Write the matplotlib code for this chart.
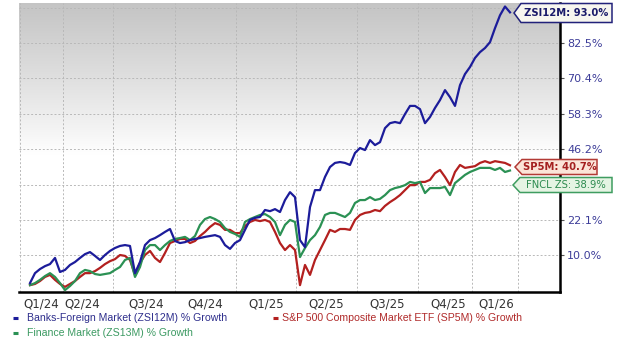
import numpy as np
import matplotlib
matplotlib.use("Agg")
import matplotlib.pyplot as plt
from matplotlib.patches import Polygon
from matplotlib.lines import Line2D
from matplotlib.transforms import Affine2D

# ---------------- data ----------------
banks_foreign = [0.4, 3.8, 5.2, 6.2, 6.9, 9.0, 4.2, 4.9, 6.6, 7.6,
                 9.0, 10.3, 11.0, 9.7, 8.3, 10.0, 11.4, 12.4, 13.1, 13.4,
                 13.1, 3.8, 7.6, 13.4, 15.1, 15.8, 16.8, 17.9, 18.9, 14.8,
                 14.1, 14.4, 15.1, 15.5, 15.8, 16.2, 16.5, 16.8, 16.2, 13.4,
                 12.1, 14.1, 15.1, 18.6, 22.0, 22.7, 23.0, 25.4, 25.0, 25.7,
                 24.7, 28.8, 31.5, 29.8, 15.1, 12.7, 26.4, 32.2, 32.2, 36.7,
                 40.1, 41.5, 41.8, 41.5, 40.8, 44.9, 46.6, 45.9, 49.3, 47.6,
                 48.6, 53.4, 55.1, 55.5, 55.1, 58.2, 61.0, 61.0, 59.9, 55.1,
                 57.2, 60.3, 63.0, 66.4, 64.0, 61.0, 68.1, 71.9, 74.3, 77.4,
                 79.4, 80.8, 82.8, 87.6, 92.0, 95.0, 93.0]
sp500 = [-0.3, 0.1, 1.1, 2.5, 3.2, 1.5, 0.1, -0.9, 0.1, 1.1,
         2.5, 3.8, 3.8, 4.5, 5.6, 6.9, 7.9, 8.6, 10.0, 9.7,
         8.3, 3.2, 7.3, 10.0, 11.4, 9.0, 7.6, 10.7, 14.1, 14.8,
         15.5, 15.5, 14.1, 14.8, 16.5, 17.9, 19.6, 20.9, 20.3, 18.6,
         18.6, 17.5, 17.5, 19.9, 21.3, 22.0, 21.6, 22.0, 21.3, 17.9,
         14.1, 11.7, 13.4, 11.7, -0.3, 6.6, 3.2, 8.3, 11.7, 15.1,
         18.6, 17.9, 18.9, 18.9, 18.6, 22.0, 23.7, 24.4, 24.7, 25.4,
         25.0, 26.8, 28.1, 29.2, 30.5, 32.2, 33.9, 33.9, 35.0, 35.0,
         35.7, 38.0, 39.1, 36.7, 33.9, 38.4, 40.8, 39.8, 40.1, 40.4,
         41.5, 42.1, 41.5, 42.1, 41.8, 41.5, 40.7]
finance = [-0.3, 0.4, 1.5, 2.8, 3.8, 2.5, 0.4, -2.0, -0.6, 1.1,
           3.8, 4.9, 4.5, 3.5, 3.2, 3.5, 3.8, 4.9, 5.9, 8.3,
           9.0, 2.5, 5.9, 11.7, 13.4, 13.4, 11.7, 13.4, 14.8, 15.5,
           15.8, 16.2, 15.1, 16.5, 20.3, 22.3, 23.0, 22.3, 21.3, 19.2,
           17.9, 17.2, 16.2, 21.3, 22.3, 23.0, 23.7, 24.0, 23.0, 21.3,
           16.8, 20.3, 22.0, 21.3, 9.3, 12.4, 15.1, 16.8, 19.6, 23.7,
           24.4, 24.4, 23.7, 23.0, 24.4, 27.8, 28.8, 28.8, 29.8, 28.8,
           29.2, 30.5, 32.2, 32.9, 33.3, 33.9, 35.0, 34.6, 35.0, 31.2,
           32.9, 32.9, 32.9, 33.3, 30.5, 34.6, 36.0, 37.4, 38.4, 39.1,
           39.8, 39.8, 39.8, 39.1, 39.8, 38.4, 38.9]

quarter_labels = ["Q1/24", "Q2/24", "Q3/24", "Q4/24", "Q1/25",
                  "Q2/25", "Q3/25", "Q4/25", "Q1/26"]
y_tick_values = [10.0, 22.1, 46.2, 58.3, 70.4, 82.5]
y_grid_values = [10.0, 22.1, 34.1, 46.2, 58.3, 70.4, 82.5, 94.6]

legend_names = ["Banks-Foreign Market (ZSI12M) % Growth",
                "S&P 500 Composite Market ETF (SP5M) % Growth",
                "Finance Market (ZS13M) % Growth"]
tag_texts = ["ZSI12M: 93.0%", "SP5M: 40.7%", "FNCL ZS: 38.9%"]

# ---------------- layout / style ----------------
W, H = 620, 346
BLUE = "#1c1c9a"
RED = "#b3201f"
GREEN = "#2b9154"

days = np.arange(len(banks_foreign)) * 5          # trading-day index
label_pos = [11, 52, 116, 175, 236, 296, 357, 418, 466]
grid_pos = [-10, 33, 83, 145, 206, 266, 327, 388, 442, 488]

fig = plt.figure(figsize=(W / 100, H / 100), dpi=100)
ax = fig.add_axes([19 / W, (H - 292) / H, (560 - 19) / W, (292 - 3) / H])
ax.set_xlim(-11, 530)
ax.set_ylim(-2.65, 96.2)

# gradient background (grey at top fading to white)
grad = np.linspace(0, 1, 256)
shade = np.clip((grad - 0.48) / 0.52, 0, 1) ** 0.9
rgb = 1 - shade[:, None] * (1 - 0.77)
img = np.repeat(rgb[:, :, None], 3, axis=2)
ax.imshow(img, extent=[0, 1, 0, 1], transform=ax.transAxes, origin="lower",
          aspect="auto", zorder=0, interpolation="bicubic")

# grid
for gx in grid_pos:
    ax.axvline(gx, color="#b8b8b8", lw=0.7, ls=(0, (2, 2)), zorder=1)
for gy in y_grid_values:
    ax.axhline(gy, color="#b8b8b8", lw=0.7, ls=(0, (2, 2)), zorder=1)

# series
ax.plot(days, sp500, color=RED, lw=1.6, zorder=3)
ax.plot(days, finance, color=GREEN, lw=1.6, zorder=4)
ax.plot(days, banks_foreign, color=BLUE, lw=1.6, zorder=5)

# spines
for s in ["left", "top"]:
    ax.spines[s].set_visible(False)
ax.spines["right"].set_linewidth(1.8)
ax.spines["bottom"].set_linewidth(1.8)
ax.spines["right"].set_color("black")
ax.spines["bottom"].set_color("black")

# ticks
ax.yaxis.tick_right()
ax.set_yticks(y_tick_values)
ax.set_yticklabels([f"{v:.1f}%" for v in y_tick_values])
ax.tick_params(axis="y", direction="out", length=3, width=0.8, pad=2,
               colors="#3d3d99", labelsize=8)
ax.tick_params(axis="y", which="both", color="#555555")
ax.set_xticks(label_pos)
ax.set_xticklabels(quarter_labels)
ax.tick_params(axis="x", length=0, pad=4, labelsize=8.5, labelcolor="#333333")
for lab in ax.get_xticklabels():
    lab.set_fontfamily("DejaVu Sans")

# ---------------- tags at right ----------------
pxT = Affine2D().scale(1 / W, -1 / H).translate(0, 1) + fig.transFigure


def tag(x_tip, y_mid, x_end, half_h, face, edge, text, tcolor, bold):
    nose = 7
    pts = [(x_tip, y_mid), (x_tip + nose, y_mid - half_h), (x_end, y_mid - half_h),
           (x_end, y_mid + half_h), (x_tip + nose, y_mid + half_h)]
    poly = Polygon(pts, closed=True, facecolor=face, edgecolor=edge, lw=1.1,
                   transform=pxT, zorder=10)
    fig.add_artist(poly)
    fig.text(((x_tip + nose + x_end) / 2) / W, 1 - y_mid / H, text,
             ha="center", va="center", fontsize=7.2, color=tcolor,
             fontweight="bold" if bold else "normal", zorder=11,
             family="DejaVu Sans")


tag(514, 13, 612, 9.5, "#f7f6ef", "#22227a", tag_texts[0], "#1a1a6a", True)
tag(515, 167, 597, 7.5, "#fbe4d8", "#b23a35", tag_texts[1], "#a42020", True)
tag(513, 185, 612, 7.5, "#e5f4e3", "#3f9d60", tag_texts[2], "#2c8a4e", False)

# ---------------- legend ----------------
legend_items = [(13, 318, 27, legend_names[0], BLUE, "#2e2e8c"),
                (273, 318, 282, legend_names[1], RED, "#b02a2a"),
                (13, 333, 27, legend_names[2], GREEN, "#3c9a62")]
for lx, ly, tx, name, lc, tc in legend_items:
    fig.add_artist(Line2D([lx, lx + 5], [ly, ly], color=lc, lw=2.2,
                          transform=pxT, solid_capstyle="butt"))
    fig.text(tx / W, 1 - ly / H, name, ha="left", va="center", fontsize=7.6,
             color=tc, family="Liberation Sans")

fig.savefig("out.png", dpi=100)
